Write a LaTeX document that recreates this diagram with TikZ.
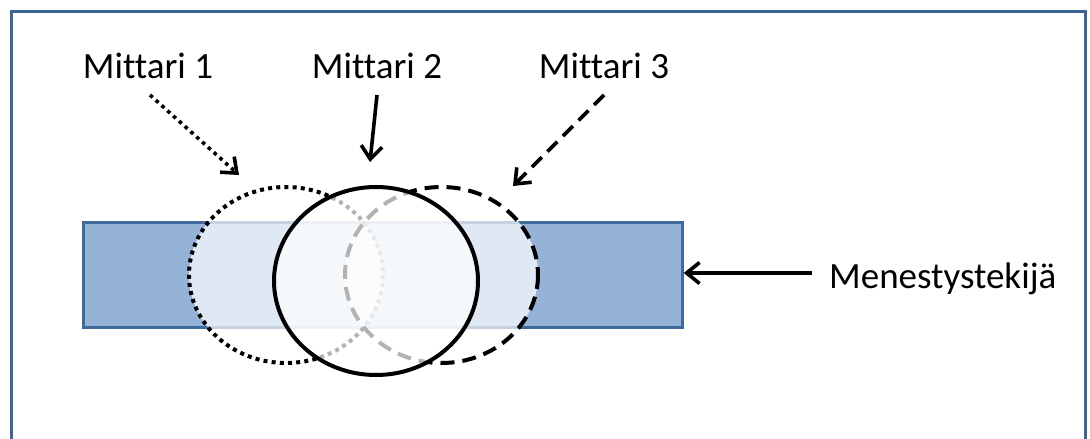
\documentclass[tikz,border=0pt]{standalone}
\usepackage{fontspec}
\setmainfont[Ligatures=NoCommon]{Carlito}
\usetikzlibrary{arrows.meta}
\definecolor{framecol}{HTML}{3C6494}
\definecolor{rectfill}{HTML}{95B3D7}
\definecolor{rectline}{HTML}{3F6A9C}
\tikzset{
  lbl/.style={font=\fontsize{37}{44}\selectfont, inner sep=0pt, anchor=base},
  arr/.style={line width=3.6pt, -{Straight Barb[length=13pt,width=21pt,line width=3.6pt]}},
  shade/.style={fill=white, fill opacity=0.7},
  dotline/.style={line width=4pt, dash pattern=on 4pt off 4.2pt},
  dashline/.style={line width=4pt, dash pattern=on 14pt off 8pt},
}
\begin{document}
\begin{tikzpicture}[x=1pt,y=-1pt]
\useasboundingbox (0,0) rectangle (1090,439);
% frame
\draw[framecol, line width=3.5pt] (11.5,11.5) rectangle (1085.5,460);
% success factor bar
\node[draw=rectline, line width=2.4pt, fill=rectfill, minimum width=599pt, minimum height=105pt, inner sep=0pt] (bar) at (383,275) {};
% measures
\draw[shade, dotline] (286,275) ellipse [x radius=97, y radius=88];
\draw[shade, dashline] (441.5,275) ellipse [x radius=96.5, y radius=88];
\draw[shade, line width=4pt] (376,281) ellipse [x radius=102, y radius=94];
% labels
\node[lbl] (m1) at (148,78) {Mittari 1};
\node[lbl] (m2) at (377,78) {Mittari 2};
\node[lbl] (m3) at (604,78) {Mittari 3};
\node[lbl, anchor=base west] (mf) at (829,288) {Menestystekijä};
% arrow end points
\coordinate (a1s) at (150,95);
\coordinate (a1e) at (239,175);
\coordinate (a2s) at (377,95);
\coordinate (a2e) at (370,162);
\coordinate (a3s) at (604,95);
\coordinate (a3e) at (513,186);
\coordinate (a4s) at (812,273);
\draw[arr, dash pattern=on 3.6pt off 4.2pt] (a1s) -- (a1e);
\draw[arr] (a2s) -- (a2e);
\draw[arr, dash pattern=on 14pt off 8pt] (a3s) -- (a3e);
\draw[arr] (a4s) -- (bar.east |- a4s);
\end{tikzpicture}
\end{document}
